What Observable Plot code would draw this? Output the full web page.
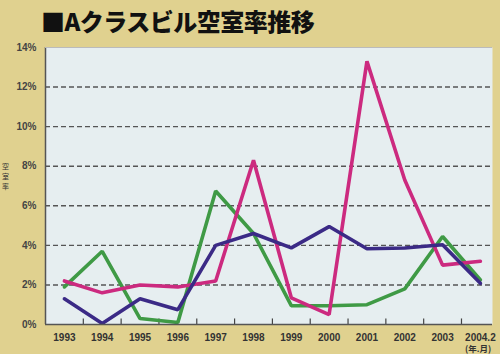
<!DOCTYPE html>
<html>
<head>
<meta charset="utf-8">
<script src="https://cdn.jsdelivr.net/npm/d3@7"></script>
<script src="https://cdn.jsdelivr.net/npm/@observablehq/plot@0.6"></script>
<style>
  html, body { margin: 0; padding: 0; }
  body { width: 500px; height: 354px; background: #e0d18f; position: relative; overflow: hidden; font-family: "Liberation Sans", Arial, sans-serif; }
  #title { position: absolute; left: 41px; top: 6px; font: 900 24px "Noto Sans CJK JP", sans-serif; color: #111; letter-spacing: -0.5px; line-height: 30px; }
  #chart { position: absolute; left: 0; top: 40px; }
  #ylabel { position: absolute; left: 1px; top: 161px; width: 9px; color: #333; text-align: center; }
  #ylabel div { font: 7px "Noto Sans CJK JP", sans-serif; height: 10px; line-height: 10px; }
  #unit { position: absolute; left: 465px; top: 343px; font: bold 8.5px "Noto Sans CJK JP", sans-serif; color: #333; white-space: nowrap; line-height: 10px; }
</style>
</head>
<body>
<div id="title">■Aクラスビル空室率推移</div>
<div id="ylabel"><div>空</div><div>室</div><div>率</div></div>
<div id="chart"></div>
<div id="unit">(年.月)</div>
<script>
const years = ["1993","1994","1995","1996","1997","1998","1999","2000","2001","2002","2003","2004.2"];
const greenValues = [1.9, 3.7, 0.3, 0.1, 6.75, 4.6, 0.95, 0.95, 1.0, 1.8, 4.45, 2.25];
const pinkValues  = [2.2, 1.6, 2.0, 1.9, 2.2, 8.3, 1.35, 0.5, 13.3, 7.3, 3.0, 3.2];
const navyValues  = [1.3, 0.05, 1.3, 0.75, 4.0, 4.6, 3.87, 4.95, 3.83, 3.87, 4.03, 2.08];
const yTicks = [0, 2, 4, 6, 8, 10, 12, 14];
const seriesNames = ["s1", "s2", "s3"];
const seriesColors = ["#3f9a45", "#cc2a7f", "#3b2a86"];

const rows = [];
[greenValues, pinkValues, navyValues].forEach((vals, s) => {
  vals.forEach((v, i) => rows.push({series: seriesNames[s], i, v}));
});
const boundaries = years.slice(0, -1).map((_, i) => i + 0.5);

const chart = Plot.plot({
  width: 500,
  height: 314,
  marginTop: 7,
  marginBottom: 30,
  marginLeft: 45,
  marginRight: 8,
  style: {background: "transparent", fontFamily: "Liberation Sans, Arial, sans-serif"},
  x: {domain: [-0.5, 11.32], axis: null},
  y: {domain: [0, 14], axis: null},
  color: {type: "ordinal", domain: seriesNames, range: seriesColors},
  marks: [
    Plot.frame({fill: "#e6eef0", stroke: "none"}),
    Plot.ruleY(yTicks.filter(d => d > 0 && d < 14), {stroke: "#555", strokeWidth: 1.4, strokeDasharray: "5,3"}),
    Plot.ruleX(boundaries, {y1: 0, y2: 0.28, stroke: "#444", strokeWidth: 1.2}),
    Plot.line(rows, {x: "i", y: "v", z: "series", stroke: "series", strokeWidth: 3.6, strokeLinejoin: "miter"}),
    Plot.ruleX([-0.5], {stroke: "#555", strokeWidth: 1.5}),
    Plot.ruleY([0], {stroke: "#555", strokeWidth: 1.5}),
    Plot.ruleY([14], {stroke: "#bbb", strokeWidth: 1}),
    Plot.axisY({ticks: yTicks, label: null, tickSize: 0, tickPadding: 9, tickFormat: d => d + "%", fontSize: 10, fontWeight: "bold", fill: "#444"}),
    Plot.axisX({ticks: years.map((_, i) => i), label: null, tickSize: 0, tickPadding: 9, tickFormat: i => years[i], fontSize: 10, fontWeight: "bold", fill: "#333"})
  ]
});
document.getElementById("chart").appendChild(chart);
</script>
</body>
</html>
